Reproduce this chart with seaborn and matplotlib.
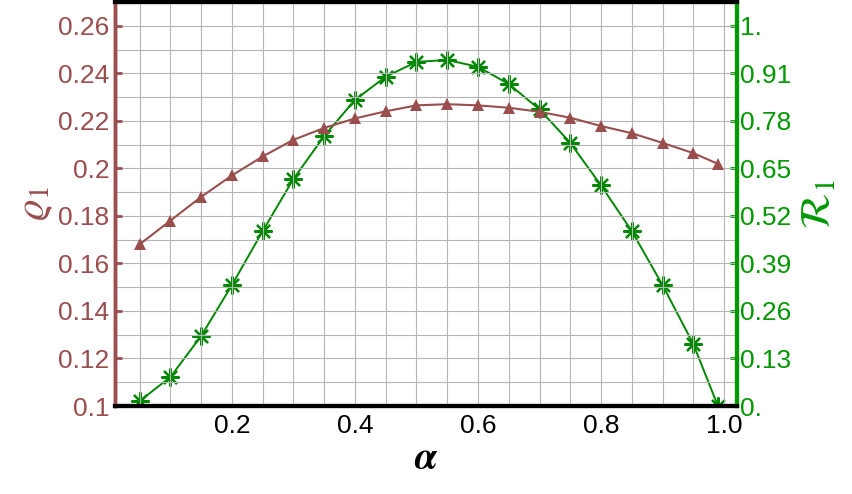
import matplotlib
matplotlib.use("Agg")
import matplotlib.pyplot as plt
import seaborn as sns
import pandas as pd

alpha = [0.05, 0.10, 0.15, 0.20, 0.25, 0.30, 0.35, 0.40, 0.45, 0.50,
         0.55, 0.60, 0.65, 0.70, 0.75, 0.80, 0.85, 0.90, 0.95, 0.99]
rho1 = [0.168, 0.178, 0.188, 0.197, 0.205, 0.212, 0.217, 0.221, 0.224, 0.2265,
        0.227, 0.2265, 0.2255, 0.2238, 0.2213, 0.2178, 0.2148, 0.2107, 0.2064, 0.2019]
R1 = [0.013, 0.076, 0.184, 0.318, 0.460, 0.597, 0.710, 0.805, 0.866, 0.905,
      0.910, 0.892, 0.847, 0.780, 0.692, 0.580, 0.460, 0.318, 0.163, 0.000]

left_ticks = [0.10, 0.12, 0.14, 0.16, 0.18, 0.20, 0.22, 0.24, 0.26]
left_labels = ["0.1", "0.12", "0.14", "0.16", "0.18", "0.2", "0.22", "0.24", "0.26"]
right_ticks = [0.0, 0.125, 0.25, 0.375, 0.5, 0.625, 0.75, 0.875, 1.0]
right_labels = ["0.", "0.13", "0.26", "0.39", "0.52", "0.65", "0.78", "0.91", "1."]
x_ticks = [0.2, 0.4, 0.6, 0.8, 1.0]
x_labels = ["0.2", "0.4", "0.6", "0.8", "1.0"]

df = pd.DataFrame({"alpha": alpha, "rho1": rho1, "R1": R1})

sns.set_style("white")
plt.rcParams["font.family"] = ["Liberation Sans", "DejaVu Sans"]
plt.rcParams["mathtext.fontset"] = "stix"

RED = "#9A4E4E"
GREEN = "#009900"

fig = plt.figure(figsize=(8.52, 4.94), dpi=100)
ax = fig.add_axes([115 / 852, 1 - 406 / 494, (737 - 115) / 852, (406 - 2) / 494])
ax2 = ax.twinx()

# grid
for gx in [0.05 * k for k in range(1, 21)]:
    ax.axvline(gx, color="#B5B5B5", lw=0.8, zorder=0)
for gy in [0.10 + 0.01 * k for k in range(1, 17)]:
    ax.axhline(gy, color="#B5B5B5", lw=0.8, zorder=0)

sns.lineplot(data=df, x="alpha", y="rho1", ax=ax, color=RED, lw=1.5,
             marker="^", markersize=9, markeredgewidth=0, markerfacecolor=RED)
sns.lineplot(data=df, x="alpha", y="R1", ax=ax2, color="#008800", lw=1.4,
             marker=(8, 2, 0), markersize=13, markeredgewidth=1.6,
             markerfacecolor="#007700", markeredgecolor="#008800")

ax.set_xlim(0.01, 1.021)
ax.set_ylim(0.10, 0.27)
ax2.set_ylim(0.0, 1.0625)

ax.set_xticks(x_ticks)
ax.set_xticklabels(x_labels)
ax.set_yticks(left_ticks)
ax.set_yticklabels(left_labels)
ax2.set_yticks(right_ticks)
ax2.set_yticklabels(right_labels)

ax.tick_params(axis="x", direction="in", length=5, width=1.5, colors="black",
               labelsize=19, pad=6)
ax.tick_params(axis="y", direction="in", length=5, width=2, colors=RED,
               labelsize=19, pad=4)
ax2.tick_params(axis="y", direction="in", length=5, width=2, colors=GREEN,
                labelsize=19, pad=2)

for a in (ax, ax2):
    a.spines["top"].set_color("black")
    a.spines["top"].set_linewidth(3)
    a.spines["bottom"].set_color("black")
    a.spines["bottom"].set_linewidth(3)
    a.spines["left"].set_color(RED)
    a.spines["left"].set_linewidth(2.5)
    a.spines["right"].set_color(GREEN)
    a.spines["right"].set_linewidth(3)

ax.set_xlabel(r"$\boldsymbol{\alpha}$", fontsize=28, color="black", labelpad=2)
ax.set_ylabel(r"$\varrho_{1}$", fontsize=30, color=RED, labelpad=2)
ax2.set_ylabel(r"$\mathcal{R}_{1}$", fontsize=30, color=GREEN, labelpad=6)

ax.set_zorder(ax2.get_zorder() + 1)
ax.patch.set_visible(False)
ax2.set_zorder(0)

fig.savefig("out.png", dpi=100)
